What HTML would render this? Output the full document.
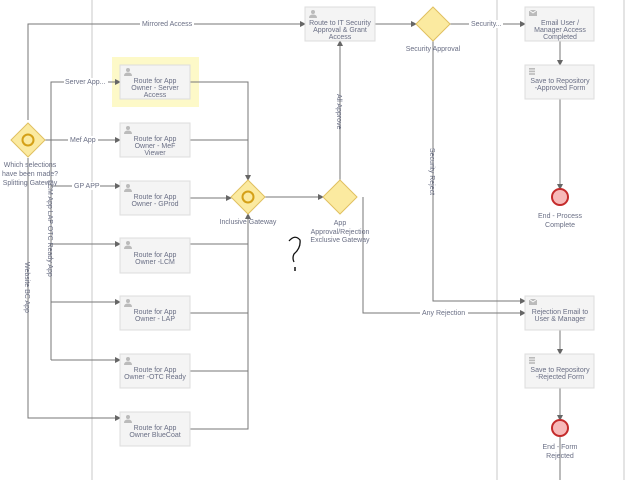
<!DOCTYPE html><html><head><style>body{margin:0;background:#fff}svg text{font-family:"Liberation Sans",sans-serif;font-size:7px;fill:#6a6f85}</style></head><body>
<svg width="635" height="480" viewBox="0 0 635 480" xmlns="http://www.w3.org/2000/svg">
<defs><marker id="a" markerWidth="6" markerHeight="6" refX="5" refY="3" orient="auto"><path d="M0,0L6,3L0,6z" fill="#666"/></marker>
<g id="p" fill="#bbb"><circle cx="4" cy="2" r="2"/><path d="M0,8Q0,4.5 4,4.5Q8,4.5 8,8z"/></g>
<g id="m" fill="#bbb"><rect x="0" y="1" width="8" height="6"/><path d="M0,1L4,4L8,1" stroke="#fff" stroke-width="0.8" fill="none"/></g>
<g id="d" fill="#bbb"><rect x="0" y="0" width="6" height="1.6"/><rect x="0" y="2.6" width="6" height="1.6"/><rect x="0" y="5.2" width="6" height="1.6"/></g>
</defs>
<g stroke="#e4e4e4" stroke-width="2"><line x1="92" y1="0" x2="92" y2="480"/><line x1="497" y1="0" x2="497" y2="480"/><line x1="624" y1="0" x2="624" y2="480"/></g>
<rect x="112" y="57" width="87" height="50" fill="#fdf9c8"/>
<g fill="none" stroke="#777" stroke-width="1">
<path d="M28,120V24H305" marker-end="url(#a)"/>
<path d="M51,360V82H120" marker-end="url(#a)"/>
<path d="M45,140H120" marker-end="url(#a)"/>
<path d="M51,186H120" marker-end="url(#a)"/>
<path d="M51,244H120" marker-end="url(#a)"/>
<path d="M51,302H120" marker-end="url(#a)"/>
<path d="M51,360H120" marker-end="url(#a)"/>
<path d="M28,158V418H120" marker-end="url(#a)"/>
<path d="M190,82H248V180" marker-end="url(#a)"/>
<path d="M190,140H248"/><path d="M190,198H231" marker-end="url(#a)"/>
<path d="M190,244H248"/><path d="M190,313H248"/><path d="M190,371H248"/>
<path d="M190,429H248V214" marker-end="url(#a)"/>
<path d="M265,197H323" marker-end="url(#a)"/>
<path d="M340,180V41" marker-end="url(#a)"/>
<path d="M363,197V313H525" marker-end="url(#a)"/>
<path d="M375,24H416" marker-end="url(#a)"/>
<path d="M450,24H525" marker-end="url(#a)"/>
<path d="M433,41V301H525" marker-end="url(#a)"/>
<path d="M560,41V65" marker-end="url(#a)"/>
<path d="M560,99V189" marker-end="url(#a)"/>
<path d="M560,330V354" marker-end="url(#a)"/>
<path d="M560,388V420" marker-end="url(#a)"/>
<path d="M560,480V436"/>
</g>
<g fill="#fff" font-size="7">
<rect x="140" y="20" width="54" height="8"/><text x="142" y="26">Mirrored Access</text>
<rect x="64" y="78" width="44" height="8"/><text x="65" y="84">Server App...</text>
<rect x="68" y="136" width="30" height="8"/><text x="70" y="142">Mef App</text>
<rect x="72" y="182" width="28" height="8"/><text x="74" y="188">GP APP</text>
<rect x="420" y="309" width="48" height="8"/><text x="422" y="315">Any Rejection</text>
<rect x="469" y="20" width="34" height="8"/><text x="471" y="26">Security...</text>
</g>
<text transform="translate(48,180) rotate(90)">LCM App LAP OTC Ready App</text>
<text transform="translate(25,262) rotate(90)">Website BC App</text>
<text transform="translate(337,94) rotate(90)">All Approve</text>
<text transform="translate(430,148) rotate(90)">Security Reject</text>
<g fill="#f4f4f4" stroke="#ddd">
<rect x="120" y="65" width="70" height="34"/><rect x="120" y="123" width="70" height="34"/><rect x="120" y="181" width="70" height="34"/><rect x="120" y="238" width="70" height="35"/><rect x="120" y="296" width="70" height="34"/><rect x="120" y="354" width="70" height="34"/><rect x="120" y="412" width="70" height="34"/>
<rect x="305" y="7" width="70" height="34"/><rect x="525" y="7" width="69" height="34"/><rect x="525" y="65" width="69" height="34"/><rect x="525" y="296" width="69" height="34"/><rect x="525" y="354" width="69" height="34"/>
</g>
<use href="#p" x="124" y="68"/><use href="#p" x="124" y="126"/><use href="#p" x="124" y="184"/><use href="#p" x="124" y="241"/><use href="#p" x="124" y="299"/><use href="#p" x="124" y="357"/><use href="#p" x="124" y="415"/><use href="#p" x="309" y="10"/>
<use href="#m" x="529" y="9"/><use href="#m" x="529" y="298"/><use href="#d" x="529" y="68"/><use href="#d" x="529" y="357"/>
<g text-anchor="middle">
<text x="155" y="83">Route for App</text><text x="155" y="90">Owner - Server</text><text x="155" y="97">Access</text>
<text x="155" y="141">Route for App</text><text x="155" y="148">Owner - MeF</text><text x="155" y="155">Viewer</text>
<text x="155" y="199">Route for App</text><text x="155" y="206">Owner - GProd</text>
<text x="155" y="257">Route for App</text><text x="155" y="264">Owner -LCM</text>
<text x="155" y="314">Route for App</text><text x="155" y="321">Owner - LAP</text>
<text x="155" y="372">Route for App</text><text x="155" y="379">Owner -OTC Ready</text>
<text x="155" y="430">Route for App</text><text x="155" y="437">Owner BlueCoat</text>
<text x="340" y="25">Route to IT Security</text><text x="340" y="32">Approval &amp; Grant</text><text x="340" y="39">Access</text>
<text x="560" y="25">Email User /</text><text x="560" y="32">Manager Access</text><text x="560" y="39">Completed</text>
<text x="560" y="83">Save to Repository</text><text x="560" y="90">-Approved Form</text>
<text x="560" y="314">Rejection Email to</text><text x="560" y="321">User &amp; Manager</text>
<text x="560" y="372">Save to Repository</text><text x="560" y="379">-Rejected Form</text>
<text x="560" y="218">End - Process</text><text x="560" y="227">Complete</text>
<text x="560" y="449">End - Form</text><text x="560" y="458">Rejected</text>
<text x="30" y="167">Which selections</text><text x="30" y="176">have been made?</text><text x="30" y="185">Splitting Gateway</text>
<text x="248" y="224">Inclusive Gateway</text>
<text x="433" y="51">Security Approval</text>
<text x="340" y="225">App</text><text x="340" y="234">Approval/Rejection</text><text x="340" y="242">Exclusive Gateway</text>
</g>
<g fill="#fbeaa0" stroke="#e0c060">
<path d="M28,123L45,140L28,157L11,140z"/><path d="M248,180L265,197L248,214L231,197z"/><path d="M340,180L357,197L340,214L323,197z"/><path d="M433,7L450,24L433,41L416,24z"/>
</g>
<circle cx="28" cy="140" r="5.5" fill="none" stroke="#d4a017" stroke-width="2"/>
<circle cx="248" cy="197" r="5.5" fill="none" stroke="#d4a017" stroke-width="2"/>
<circle cx="560" cy="197" r="8" fill="#f7b9b9" stroke="#c42b2b" stroke-width="2"/>
<circle cx="560" cy="428" r="8" fill="#f7b9b9" stroke="#c42b2b" stroke-width="2"/>
<path d="M289,241Q295,234 300,240Q301,248 294,254Q292,258 294,262" fill="none" stroke="#111" stroke-width="1.3"/>
<line x1="295" y1="267" x2="295" y2="271" stroke="#111" stroke-width="1.5"/>
</svg></body></html>
